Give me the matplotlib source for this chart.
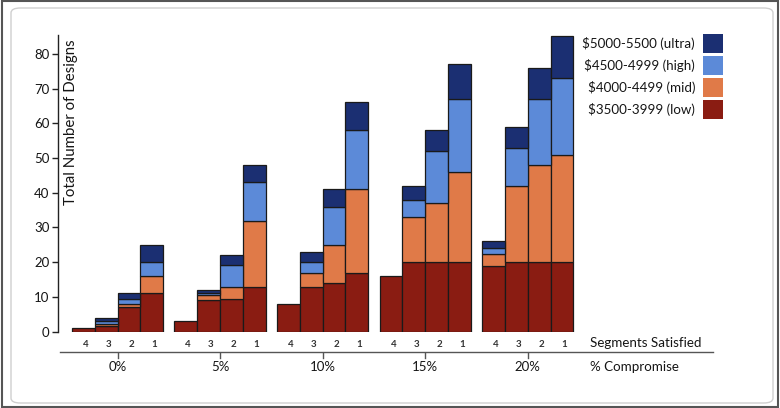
import matplotlib
matplotlib.use("Agg")
import matplotlib.pyplot as plt
from matplotlib.patches import Rectangle, FancyBboxPatch
from matplotlib.lines import Line2D
import numpy as np

plt.rcParams['font.family'] = ['Lato', 'DejaVu Sans']

# Data: for each % compromise group, bars for 4, 3, 2, 1 segments satisfied
compromise = ["0%", "5%", "10%", "15%", "20%"]
segments = ["4", "3", "2", "1"]

low = [[1, 1.5, 7, 11], [3, 9, 9.5, 13], [8, 13, 14, 17], [16, 20, 20, 20], [19, 20, 20, 20]]
mid = [[0, 0.8, 1, 5], [0, 1.5, 3.3, 19], [0, 4, 11, 24], [0, 13, 17, 26], [3.5, 22, 28, 31]]
high = [[0, 0.8, 1.5, 4], [0, 0.5, 6.5, 11], [0, 3, 11, 17], [0, 5, 15, 21], [1.5, 11, 19, 22]]
ultra = [[0, 0.9, 1.5, 5], [0, 1, 2.7, 5], [0, 3, 5, 8], [0, 4, 6, 10], [2, 6, 9, 12]]

tiers = [
    ("$3500-3999 (low)", low, "#8a1c12"),
    ("$4000-4499 (mid)", mid, "#e07a48"),
    ("$4500-4999 (high)", high, "#5c8ad8"),
    ("$5000-5500 (ultra)", ultra, "#1b2f72"),
]

TXT = "#151515"
W, H = 780, 408
fig = plt.figure(figsize=(W / 100, H / 100), dpi=100)
fig.patch.set_facecolor("white")

def fx(px):
    return px / W

def fy(py):
    return 1 - py / H

ax_left, ax_right = 58, 578
ax_top, ax_bot = 35, 331.7
ax = fig.add_axes([fx(ax_left), fy(ax_bot), fx(ax_right - ax_left), (ax_bot - ax_top) / H])
ax.set_facecolor("none")

stride = 4.5
bar_w = 1.0
xs = []
for g in range(len(compromise)):
    for i in range(len(segments)):
        xs.append(g * stride + i + 0.5)
xs = np.array(xs)

bottom = np.zeros(len(xs))
for name, vals, color in tiers:
    v = np.array(vals, dtype=float).ravel()
    mask = v > 0
    ax.bar(xs[mask], v[mask], width=bar_w, bottom=bottom[mask], color=color,
           edgecolor="#1a1a1a", linewidth=0.9, zorder=2)
    bottom += v

ax.set_xlim(-0.61, 22.2)
ax.set_ylim(0, 85.4)

for s in ["top", "right", "bottom"]:
    ax.spines[s].set_visible(False)
ax.spines["left"].set_color("#222222")
ax.spines["left"].set_linewidth(1.0)
ax.set_yticks(np.arange(0, 81, 10))
ax.tick_params(axis="y", length=4, width=1, color="#222222", labelsize=9.5, pad=2, labelcolor=TXT)
ax.set_xticks(xs + 0.1)
ax.set_xticklabels(segments * len(compromise), fontsize=7, fontweight="bold", color="#333333")
ax.tick_params(axis="x", length=0, pad=6)

fig.text(fx(64), fy(39), "Total Number of Designs", rotation=90,
         ha="left", va="top", fontsize=10.8, color=TXT)

# Second-level axis: % compromise
fig.add_artist(Line2D([fx(60), fx(713)], [fy(352), fy(352)], color="#555555", lw=1.0))
for g, lab in enumerate(compromise):
    cx = g * stride + 2
    px = ax.transData.transform((cx, 0))[0]
    xfig = px / W
    fig.add_artist(Line2D([xfig, xfig], [fy(353), fy(358)], color="#555555", lw=1.0))
    fig.text(xfig, fy(367), lab, ha="center", va="center", fontsize=9.5, color=TXT)

fig.text(fx(590), fy(343), "Segments Satisfied", ha="left", va="center", fontsize=9.6, color=TXT)
fig.text(fx(590), fy(367), "% Compromise", ha="left", va="center", fontsize=9.6, color=TXT)

# Legend
legend_rows = [(43.5, tiers[3]), (65.5, tiers[2]), (87.5, tiers[1]), (109.5, tiers[0])]
for yc, (name, _, color) in legend_rows:
    fig.add_artist(Rectangle((fx(703), fy(yc + 9.5)), fx(20), 19 / H, facecolor=color,
                             edgecolor="none", transform=fig.transFigure))
    fig.text(fx(695), fy(yc), name, ha="right", va="center", fontsize=9.6, color=TXT)

# Frame around the chart
fig.add_artist(FancyBboxPatch((fx(11), fy(403)), fx(762), (403 - 8) / H,
                              boxstyle="round,pad=0,rounding_size=0.012",
                              facecolor="none", edgecolor="#cfcfcf", lw=1.0,
                              transform=fig.transFigure))
fig.add_artist(Rectangle((0.002, 0.002), 0.996, 0.996, facecolor="none",
                         edgecolor="#555555", lw=1.5, transform=fig.transFigure))

fig.savefig("out.png", dpi=100, facecolor="white")
